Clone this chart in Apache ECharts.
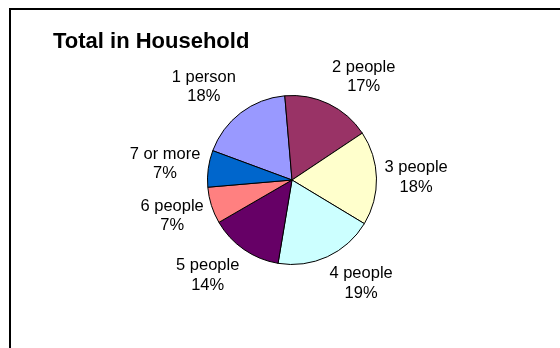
<!DOCTYPE html>
<html>
<head>
<meta charset="utf-8">
<script src="https://cdn.jsdelivr.net/npm/echarts@6/dist/echarts.min.js"></script>
<style>
  html, body { margin: 0; padding: 0; background: #ffffff; }
  #chart { width: 560px; height: 348px; }
</style>
</head>
<body>
<div id="chart"></div>
<script>
// Household size breakdown (percent of households)
const categories = ['1 person', '2 people', '3 people', '4 people', '5 people', '6 people', '7 or more'];
const shares = [18, 17, 18, 19, 14, 7, 7];
const sliceColors = ['#9999FF', '#993366', '#FFFFCC', '#CCFFFF', '#660066', '#FF8080', '#0066CC'];

const PIE_CX = 292, PIE_CY = 180, PIE_R = 84.5;
const START_ANGLE = 159.7;
const LABEL_GAP = 8;
const FONT = 'Liberation Sans, Arial, sans-serif';

// mid angle (degrees, counter-clockwise from 3 o'clock) of each slice
const total = shares.reduce((a, b) => a + b, 0);
const midAngles = [];
let acc = 0;
shares.forEach(v => {
  midAngles.push(START_ANGLE - (acc + v / 2) / total * 360);
  acc += v;
});

const chart = echarts.init(document.getElementById('chart'), null, { renderer: 'canvas' });

chart.setOption({
  animation: false,
  backgroundColor: '#ffffff',
  title: {
    text: 'Total in Household',
    left: 53,
    top: 31,
    padding: 0,
    textStyle: { fontFamily: FONT, fontWeight: 'bold', fontSize: 22, color: '#000' }
  },
  graphic: [{
    type: 'polyline',
    shape: { points: [[10, 400], [10, 9], [600, 9]] },
    style: { stroke: '#000', lineWidth: 2, fill: null },
    silent: true
  }],
  series: [{
    type: 'pie',
    center: [PIE_CX, PIE_CY],
    radius: PIE_R,
    startAngle: START_ANGLE,
    clockwise: true,
    avoidLabelOverlap: false,
    data: categories.map((name, i) => ({
      name, value: shares[i], itemStyle: { color: sliceColors[i] }
    })),
    itemStyle: { borderColor: '#000', borderWidth: 1 },
    label: {
      show: true,
      position: 'outside',
      formatter: '{b}\n{d}%',
      fontFamily: FONT,
      fontSize: 16.5,
      lineHeight: 19.5,
      color: '#000'
    },
    labelLine: { show: false, length: 10, length2: 0 },
    // place each label box just outside the rim, sliding it off the anchor
    // point toward the side the slice faces
    labelLayout: function (params) {
      const a = midAngles[params.dataIndex] * Math.PI / 180;
      const ux = Math.cos(a), uy = -Math.sin(a);
      const w = params.labelRect.width, h = params.labelRect.height;
      const ax = PIE_CX + (PIE_R + LABEL_GAP) * ux;
      const ay = PIE_CY + (PIE_R + LABEL_GAP) * uy;
      const ox = Math.sign(ux) * Math.min(1, Math.abs(ux) * 2.3) * w / 2;
      const oy = Math.sign(uy) * Math.min(1, Math.abs(uy) * 1.4) * h / 2;
      return { x: ax + ox, y: ay + oy, align: 'center', verticalAlign: 'middle' };
    }
  }]
});
</script>
</body>
</html>
